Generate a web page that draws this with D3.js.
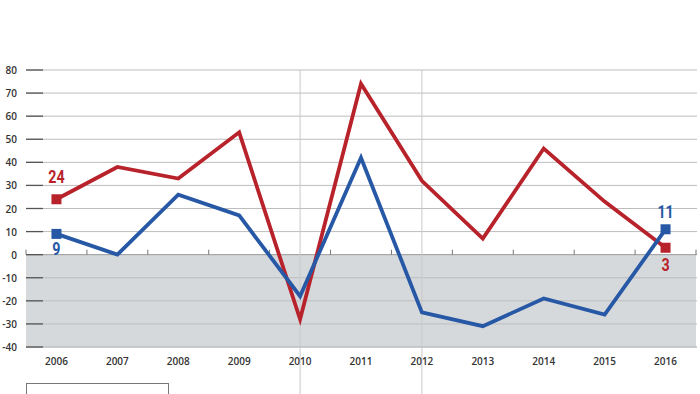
<!DOCTYPE html>
<html><head><meta charset="utf-8">
<script src="https://cdn.jsdelivr.net/npm/d3@7"></script>
<style>body{margin:0;background:#fff}svg{display:block}</style>
</head><body>
<script>
const years = ["2006","2007","2008","2009","2010","2011","2012","2013","2014","2015","2016"];
const redValues = [24,38,33,53,-28,74,32,7,46,23,3];
const blueValues = [9,0,26,17,-18,42,-25,-31,-19,-26,11];
const yTicks = [80,70,60,50,40,30,20,10,0,-10,-20,-30,-40];
const markedYears = ["2010","2012"];

const W=700,H=394;
const svg=d3.select("body").append("svg").attr("width",W).attr("height",H);
const x=d3.scaleBand().domain(years).range([26,696]);
const y=d3.scaleLinear().domain([-40,80]).range([347,70]);
const red="#b8222b", blue="#2758a5";

svg.append("rect").attr("x",26).attr("y",y(0)).attr("width",670).attr("height",y(-40)-y(0)).attr("fill","#d5d9dc");

yTicks.forEach(t=>{
  svg.append("line").attr("x1",26).attr("x2",697).attr("y1",y(t)).attr("y2",y(t))
    .attr("stroke",t===0?"#999":"#bdbdbd").attr("stroke-width",t===-40?1.5:1);
  svg.append("line").attr("x1",26).attr("x2",43).attr("y1",y(t)).attr("y2",y(t))
    .attr("stroke","#555").attr("stroke-width",1.3);
  svg.append("text").attr("x",17).attr("y",y(t)+4).attr("text-anchor","end")
    .attr("font-family","Open Sans, sans-serif").attr("font-size",10).attr("font-weight",600).attr("fill","#333").text(t);
});
years.concat(["end"]).forEach((yr,i)=>{
  const xx = 26 + i*x.step();
  svg.append("line").attr("x1",xx).attr("x2",xx).attr("y1",y(0)-5).attr("y2",y(0)).attr("stroke","#777").attr("stroke-width",1);
});
markedYears.forEach(yr=>{
  const xx=x(yr)+x.bandwidth()/2;
  svg.append("line").attr("x1",xx).attr("x2",xx).attr("y1",70).attr("y2",H).attr("stroke","#c8c8c8").attr("stroke-width",1);
});
years.forEach(yr=>{
  svg.append("text").attr("x",x(yr)+x.bandwidth()/2).attr("y",365).attr("text-anchor","middle")
    .attr("font-family","Open Sans, sans-serif").attr("font-size",10).attr("font-weight",600).attr("fill","#333").text(yr);
});

const cx=d=>x(d.year)+x.bandwidth()/2;
const line=d3.line().x(cx).y(d=>y(d.v));
function series(vals,color){
  const data=years.map((yr,i)=>({year:yr,v:vals[i]}));
  svg.append("path").datum(data).attr("d",line).attr("fill","none").attr("stroke",color)
    .attr("stroke-width",3.8).attr("stroke-linejoin","miter");
  [data[0],data[data.length-1]].forEach(d=>{
    svg.append("rect").attr("x",cx(d)-5).attr("y",y(d.v)-5).attr("width",10).attr("height",10).attr("fill",color);
  });
  return data;
}
const rd=series(redValues,red);
const bd=series(blueValues,blue);

function lab(d,color,dy){
  svg.append("text").attr("transform",`translate(${cx(d)},${y(d.v)+dy}) scale(0.75,1)`).attr("text-anchor","middle")
    .attr("font-family","Roboto, sans-serif").attr("font-weight","bold").attr("font-size",19).attr("fill",color).text(d.v);
}
lab(rd[0],red,-16);
lab(bd[0],blue,21);
lab(bd[10],blue,-11);
lab(rd[10],red,23);

svg.append("rect").attr("x",26.5).attr("y",383.5).attr("width",142).attr("height",30).attr("fill","#fff").attr("stroke","#777");
</script>
</body></html>
